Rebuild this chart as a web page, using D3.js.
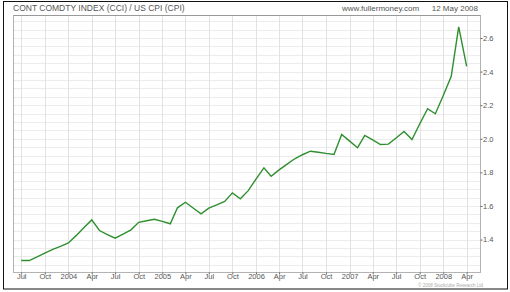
<!DOCTYPE html>
<html>
<head>
<meta charset="utf-8">
<script src="https://cdn.jsdelivr.net/npm/d3@7"></script>
<style>
  body { margin: 0; background: #fff; }
  text { font-family: "Liberation Sans", Arial, sans-serif; }
</style>
</head>
<body>
<div id="chart"></div>
<script>
// monthly ratio, Jul 2003 .. Apr 2008
const months = [
  '2003-07', '2003-08', '2003-09', '2003-10', '2003-11', '2003-12',
  '2004-01', '2004-02', '2004-03', '2004-04', '2004-05', '2004-06',
  '2004-07', '2004-08', '2004-09', '2004-10', '2004-11', '2004-12',
  '2005-01', '2005-02', '2005-03', '2005-04', '2005-05', '2005-06',
  '2005-07', '2005-08', '2005-09', '2005-10', '2005-11', '2005-12',
  '2006-01', '2006-02', '2006-03', '2006-04', '2006-05', '2006-06',
  '2006-07', '2006-08', '2006-09', '2006-10', '2006-11', '2006-12',
  '2007-01', '2007-02', '2007-03', '2007-04', '2007-05', '2007-06',
  '2007-07', '2007-08', '2007-09', '2007-10', '2007-11', '2007-12',
  '2008-01', '2008-02', '2008-03', '2008-04',
]
const ratio = [
  1.275, 1.275, 1.297, 1.32, 1.342, 1.36,
  1.38, 1.425, 1.47, 1.517, 1.454, 1.43,
  1.408, 1.433, 1.458, 1.503, 1.512, 1.521,
  1.508, 1.494, 1.589, 1.622, 1.588, 1.553,
  1.587, 1.607, 1.627, 1.678, 1.643, 1.69,
  1.76, 1.827, 1.777, 1.815, 1.848, 1.881,
  1.905, 1.926, 1.92, 1.913, 1.907, 2.026,
  1.986, 1.947, 2.02, 1.993, 1.966, 1.968,
  2.005, 2.044, 1.996, 2.088, 2.179, 2.149,
  2.258, 2.372, 2.666, 2.431,
]
const yTicks = [1.4, 1.6, 1.8, 2.0, 2.2, 2.4, 2.6]
const title = 'CONT COMDTY INDEX (CCI) / US CPI (CPI)'
const source = 'www.fullermoney.com'
const dateLabel = '12 May 2008'
const credit = '\u00a9 2008 Stockcube Research Ltd'

const WIDTH = 510
const HEIGHT = 292
const PLOT = { LEFT: 13.5, RIGHT: 480.5, TOP: 15.5, BOTTOM: 272.5 }

const parse = d3.timeParse('%Y-%m')
const data = months.map((m, i) => ({ date: parse(m), value: ratio[i] }))

const x = d3
  .scaleTime()
  .domain([new Date(2003, 5, 1), new Date(2008, 4, 25)])
  .range([PLOT.LEFT, PLOT.RIGHT])
const y = d3.scaleLinear().domain([1.204, 2.734]).range([PLOT.BOTTOM, PLOT.TOP])

const svg = d3
  .select('#chart')
  .append('svg')
  .attr('width', WIDTH)
  .attr('height', HEIGHT)

// outer frame
svg.append('rect')
  .attr('x', 3.5).attr('y', 1.5)
  .attr('width', 504).attr('height', 287.5)
  .attr('fill', '#fff')
  .attr('stroke', '#111')
  .attr('stroke-width', 1)

// minor horizontal grid every 0.05
const minorY = d3.range(1.25, 2.73, 0.05)
svg.append('g')
  .selectAll('line')
  .data(minorY)
  .join('line')
  .attr('x1', PLOT.LEFT).attr('x2', PLOT.RIGHT)
  .attr('y1', d => Math.round(y(d)) + 0.5)
  .attr('y2', d => Math.round(y(d)) + 0.5)
  .attr('stroke', '#ececec')

// quarterly vertical grid
const quarters = x.ticks(d3.timeMonth.every(3)).filter(d => d.getMonth() % 3 == 0)
svg.append('g')
  .selectAll('line')
  .data(quarters)
  .join('line')
  .attr('x1', d => Math.round(x(d)) + 0.5)
  .attr('x2', d => Math.round(x(d)) + 0.5)
  .attr('y1', PLOT.TOP).attr('y2', PLOT.BOTTOM)
  .attr('stroke', '#e2e2e2')

// plot border (dotted, like the tick rulers)
svg.append('rect')
  .attr('x', PLOT.LEFT).attr('y', PLOT.TOP)
  .attr('width', PLOT.RIGHT - PLOT.LEFT)
  .attr('height', PLOT.BOTTOM - PLOT.TOP)
  .attr('fill', 'none')
  .attr('stroke', '#666')
  .attr('stroke-dasharray', '1,1')

// header separator
svg.append('line')
  .attr('x1', PLOT.LEFT).attr('x2', PLOT.RIGHT)
  .attr('y1', PLOT.TOP).attr('y2', PLOT.TOP)
  .attr('stroke', '#999')

// y axis on the right
const yAxis = d3.axisRight(y).tickValues(yTicks).tickSize(2).tickFormat(d3.format('.1f'))
const gy = svg.append('g')
  .attr('transform', `translate(${PLOT.RIGHT},0)`)
  .call(yAxis)
gy.select('.domain').remove()
gy.selectAll('line').attr('stroke', '#666')
gy.selectAll('text')
  .attr('x', 2.5)
  .style('font-size', '7.5px')
  .style('fill', '#555')

// x axis labels
const fmt = d => (d.getMonth() == 0 ? d3.timeFormat('%Y')(d) : d3.timeFormat('%b')(d))
const xAxis = d3.axisBottom(x).tickValues(quarters).tickSize(2).tickFormat(fmt)
const gx = svg.append('g')
  .attr('transform', `translate(0,${PLOT.BOTTOM})`)
  .call(xAxis)
gx.select('.domain').remove()
gx.selectAll('line').attr('stroke', '#666')
gx.selectAll('text')
  .attr('y', 1.5)
  .style('font-size', '7.5px')
  .style('fill', '#555')

// the ratio line
const line = d3
  .line()
  .x(d => x(d.date))
  .y(d => y(d.value))
svg.append('path')
  .datum(data)
  .attr('d', line)
  .attr('fill', 'none')
  .attr('stroke', '#2f8f2f')
  .attr('stroke-width', 1.4)
  .attr('stroke-linejoin', 'miter')

// header texts
svg.append('text')
  .attr('x', 13).attr('y', 11)
  .style('font-size', '8.5px')
  .style('fill', '#555')
  .text(title)
svg.append('text')
  .attr('x', 342).attr('y', 11)
  .style('font-size', '8px')
  .style('fill', '#555')
  .text(source)
svg.append('text')
  .attr('x', 478).attr('y', 11)
  .attr('text-anchor', 'end')
  .style('font-size', '8px')
  .style('fill', '#555')
  .text(dateLabel)

// credit line
svg.append('text')
  .attr('x', 483).attr('y', 287)
  .attr('text-anchor', 'end')
  .style('font-size', '4.5px')
  .style('fill', '#aaa')
  .text(credit)
</script>
</body>
</html>
